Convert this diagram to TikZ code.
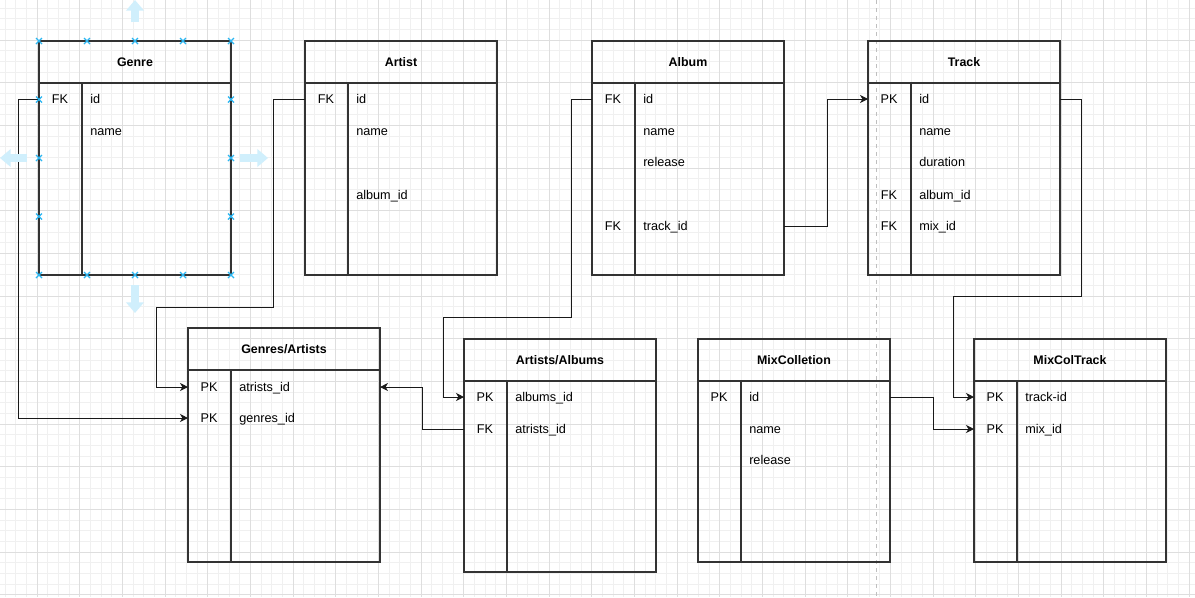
\documentclass[tikz,border=0pt]{standalone}
\usepackage{fontspec}
\setmainfont{Liberation Sans}
\usetikzlibrary{arrows.meta,positioning,calc}
\definecolor{selblue}{HTML}{29B6F2}
\definecolor{tblgray}{HTML}{333333}
\tikzset{
	tbl/.style={draw=tblgray,line width=0.9pt,inner sep=0pt,outer sep=0pt,
		minimum width=144pt,minimum height=#1,anchor=north west},
	tblhead/.style={draw=tblgray,line width=0.9pt,inner sep=0pt,outer sep=0pt,
		minimum width=144pt,minimum height=31.5pt,anchor=north,
		font=\fontsize{9.3}{11}\selectfont\bfseries},
	tbldiv/.style={draw=tblgray,line width=0.9pt},
	keytxt/.style={inner sep=0pt,text height=6.8pt,text depth=0pt,
		font=\fontsize{9.5}{11}\selectfont},
	fieldtxt/.style={keytxt,anchor=west},
	link/.style={draw=black!90,line width=0.75pt,
		-{Stealth[length=6pt,width=6pt,inset=1.8pt]}},
	minorgrid/.style={draw=black!6,line width=0.6pt},
	majorgrid/.style={draw=black!13,line width=0.6pt},
	pagebreak/.style={draw=black!25,line width=0.75pt,dash pattern=on 3pt off 3pt},
	handle/.style={draw=selblue,line width=0.9pt},
	hint/.style={draw=selblue!22,line width=6pt,-{Triangle[length=8pt,width=13pt]}}
}

\begin{document}
\begin{tikzpicture}[x=0.75pt,y=-0.75pt]
	\useasboundingbox[fill=white] (0,0) rectangle (1195,597);
	% background grid
	\foreach \i in {-3,...,108}
		\draw[minorgrid] ({37+\i*32/3},0) -- ({37+\i*32/3},597);
	\foreach \j in {-3,...,53}
		\draw[minorgrid] (0,{40+\j*32/3}) -- (1195,{40+\j*32/3});
	\foreach \i in {0,...,27}
		\draw[majorgrid] ({37+\i*128/3},0) -- ({37+\i*128/3},597);
	\foreach \j in {0,...,13}
		\draw[majorgrid] (0,{40+\j*128/3}) -- (1195,{40+\j*128/3});
	\draw[pagebreak] (876,0) -- (876,597);

	% tables
	\node[tbl=175.5pt] (genre) at (39,41) {};
	\node[tblhead] (genre-h) at (genre.north) {Genre};
	\draw[tbldiv] ([xshift=32.25pt]genre-h.south west) -- ([xshift=32.25pt]genre.south west);
	\foreach \k/\f/\y/\n in {FK/id/99/id,/name/131/name}{
		\node[keytxt] (genre-k\n) at (60,\y) {\k};
		\node[fieldtxt] (genre-\n) at (90,\y) {\f};
	}

	\node[tbl=175.5pt] (artist) at (305,41) {};
	\node[tblhead] (artist-h) at (artist.north) {Artist};
	\draw[tbldiv] ([xshift=32.25pt]artist-h.south west) -- ([xshift=32.25pt]artist.south west);
	\foreach \k/\f/\y/\n in {FK/id/99/id,/name/131/name,/album\_id/195/albid}{
		\node[keytxt] (artist-k\n) at (326,\y) {\k};
		\node[fieldtxt] (artist-\n) at (356,\y) {\f};
	}

	\node[tbl=175.5pt] (album) at (592,41) {};
	\node[tblhead] (album-h) at (album.north) {Album};
	\draw[tbldiv] ([xshift=32.25pt]album-h.south west) -- ([xshift=32.25pt]album.south west);
	\foreach \k/\f/\y/\n in {FK/id/99/id,/name/131/name,/release/162/rel,FK/track\_id/226/tid}{
		\node[keytxt] (album-k\n) at (613,\y) {\k};
		\node[fieldtxt] (album-\n) at (643,\y) {\f};
	}

	\node[tbl=175.5pt] (track) at (868,41) {};
	\node[tblhead] (track-h) at (track.north) {Track};
	\draw[tbldiv] ([xshift=32.25pt]track-h.south west) -- ([xshift=32.25pt]track.south west);
	\foreach \k/\f/\y/\n in {PK/id/99/id,/name/131/name,/duration/162/dur,FK/album\_id/195/albid,FK/mix\_id/226/mid}{
		\node[keytxt] (track-k\n) at (889,\y) {\k};
		\node[fieldtxt] (track-\n) at (919,\y) {\f};
	}

	\node[tbl=175.5pt] (ga) at (188,328) {};
	\node[tblhead] (ga-h) at (ga.north) {Genres/Artists};
	\draw[tbldiv] ([xshift=32.25pt]ga-h.south west) -- ([xshift=32.25pt]ga.south west);
	\foreach \k/\f/\y/\n in {PK/atrists\_id/387/aid,PK/genres\_id/418/gid}{
		\node[keytxt] (ga-k\n) at (209,\y) {\k};
		\node[fieldtxt] (ga-\n) at (239,\y) {\f};
	}

	\node[tbl=174.75pt] (aa) at (464,339) {};
	\node[tblhead] (aa-h) at (aa.north) {Artists/Albums};
	\draw[tbldiv] ([xshift=32.25pt]aa-h.south west) -- ([xshift=32.25pt]aa.south west);
	\foreach \k/\f/\y/\n in {PK/albums\_id/397/alb,FK/atrists\_id/429/art}{
		\node[keytxt] (aa-k\n) at (485,\y) {\k};
		\node[fieldtxt] (aa-\n) at (515,\y) {\f};
	}

	\node[tbl=167.25pt] (mc) at (698,339) {};
	\node[tblhead] (mc-h) at (mc.north) {MixColletion};
	\draw[tbldiv] ([xshift=32.25pt]mc-h.south west) -- ([xshift=32.25pt]mc.south west);
	\foreach \k/\f/\y/\n in {PK/id/397/id,/name/429/name,/release/460/rel}{
		\node[keytxt] (mc-k\n) at (719,\y) {\k};
		\node[fieldtxt] (mc-\n) at (749,\y) {\f};
	}

	\node[tbl=167.25pt] (mct) at (974,339) {};
	\node[tblhead] (mct-h) at (mct.north) {MixColTrack};
	\draw[tbldiv] ([xshift=32.25pt]mct-h.south west) -- ([xshift=32.25pt]mct.south west);
	\foreach \k/\f/\y/\n in {PK/track-id/397/tid,PK/mix\_id/429/mid}{
		\node[keytxt] (mct-k\n) at (995,\y) {\k};
		\node[fieldtxt] (mct-\n) at (1025,\y) {\f};
	}

	% links
	\draw[link] (genre.west |- genre-id) -- ++(-21,0) |- (ga.west |- ga-gid);
	\draw[link] (artist.west |- artist-id) -- ++(-32,0) -- ++(0,208)
		-| ($(ga.west |- ga-aid)+(-32,0)$) -- (ga.west |- ga-aid);
	\draw[link] (album.west |- album-id) -- ++(-21,0) -- ++(0,218)
		-| ($(aa.west |- aa-alb)+(-21,0)$) -- (aa.west |- aa-alb);
	\draw[link] (aa.west |- aa-art) -- ++(-42,0) |- (ga.east |- ga-aid);
	\draw[link] (album.east |- album-tid) -- ++(43,0) |- (track.west |- track-id);
	\draw[link] (track.east |- track-id) -- ++(21,0) -- ++(0,197)
		-| ($(mct.west |- mct-tid)+(-21,0)$) -- (mct.west |- mct-tid);
	\draw[link] (mc.east |- mc-id) -- ++(43,0) |- (mct.west |- mct-mid);

	% selection handles on Genre
	\draw[hint] ($(genre.north)+(0,-19)$) -- ++(0,-22);
	\draw[hint] ($(genre.south)+(0,10)$) -- ++(0,28);
	\draw[hint] ($(genre.east)+(9,0)$) -- ++(28,0);
	\draw[hint] ($(genre.west)+(-12,0)$) -- ++(-27,0);
	\foreach \f in {0,0.25,0.5,0.75,1}{
		\draw[handle] ($(genre.north west)!\f!(genre.north east)$) +(-3,-3) -- +(3,3) +(-3,3) -- +(3,-3);
		\draw[handle] ($(genre.south west)!\f!(genre.south east)$) +(-3,-3) -- +(3,3) +(-3,3) -- +(3,-3);
	}
	\foreach \f in {0.25,0.5,0.75}{
		\draw[handle] ($(genre.north west)!\f!(genre.south west)$) +(-3,-3) -- +(3,3) +(-3,3) -- +(3,-3);
		\draw[handle] ($(genre.north east)!\f!(genre.south east)$) +(-3,-3) -- +(3,3) +(-3,3) -- +(3,-3);
	}
\end{tikzpicture}
\end{document}
